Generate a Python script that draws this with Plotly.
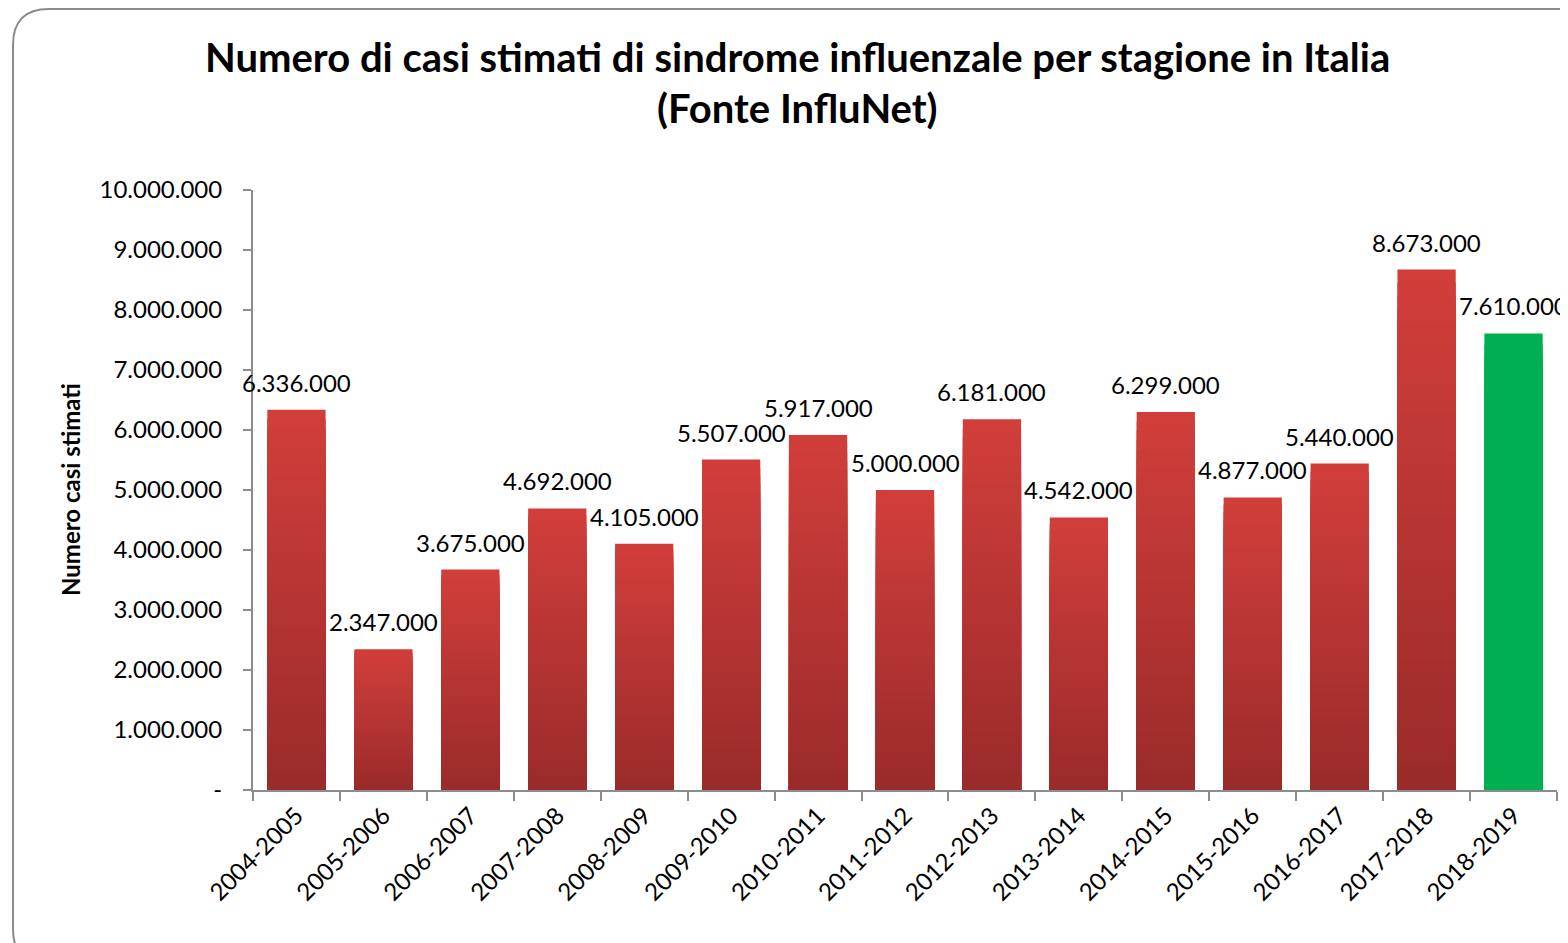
import plotly.graph_objects as go

# dati
stagioni = ["2004-2005", "2005-2006", "2006-2007", "2007-2008", "2008-2009",
            "2009-2010", "2010-2011", "2011-2012", "2012-2013", "2013-2014",
            "2014-2015", "2015-2016", "2016-2017", "2017-2018", "2018-2019"]
casi = [6336000, 2347000, 3675000, 4692000, 4105000,
        5507000, 5917000, 5000000, 6181000, 4542000,
        6299000, 4877000, 5440000, 8673000, 7610000]
y_tickvals = [0, 1000000, 2000000, 3000000, 4000000, 5000000,
              6000000, 7000000, 8000000, 9000000, 10000000]
y_ticktext = ["-", "1.000.000", "2.000.000", "3.000.000", "4.000.000", "5.000.000",
              "6.000.000", "7.000.000", "8.000.000", "9.000.000", "10.000.000"]

FONT = "Lato, Calibri, Arial"
TOP = (209, 62, 58)      # rosso chiaro (alto)
BOTTOM = (154, 43, 43)   # rosso scuro (base)
GREEN = "#00B050"
N_LAYERS = 40

# la pagina ha un margine di 8px: coordinate di riferimento traslate
OFF = 8
W, H = 1568 - OFF, 943 - OFF
ML, MR, MT, MB = 253 - OFF, 1568 - 1557, 190 - OFF, 943 - 790
PW, PH = W - ML - MR, H - MT - MB


def px(x):
    return (x - OFF - ML) / PW


def py(y):
    return (H - MB - (y - OFF)) / PH


def fmt(v):
    return f"{v:,}".replace(",", ".")


fig = go.Figure()

# gradiente verticale simulato con barre sovrapposte
for i in range(N_LAYERS):
    t = i / (N_LAYERS - 1)
    r, g, b = (round(TOP[k] + (BOTTOM[k] - TOP[k]) * t) for k in range(3))
    col = f"rgb({r},{g},{b})"
    frac = 1 - i / N_LAYERS
    colors = [col] * (len(casi) - 1) + [GREEN]
    fig.add_trace(go.Bar(
        x=stagioni,
        y=[v * frac for v in casi],
        marker_color=colors,
        marker_line_width=0,
        hoverinfo="skip" if i else None,
        showlegend=False,
    ))

# etichette dei valori
for s, v in zip(stagioni, casi):
    fig.add_annotation(x=s, y=v, text=fmt(v), showarrow=False,
                       xanchor="center", yanchor="bottom", yshift=11,
                       font={'size': 24, 'color': 'black', 'family': FONT})

# cornice arrotondata
x0, x1, y0, y1, r = 13, 1600, 9, 965, 36
rx, ry = r / PW, r / PH
path = (f"M {px(x0)},{py(y0) - ry} L {px(x0)},{py(y1) + ry} "
        f"Q {px(x0)},{py(y1)} {px(x0) + rx},{py(y1)} "
        f"L {px(x1) - rx},{py(y1)} Q {px(x1)},{py(y1)} {px(x1)},{py(y1) + ry} "
        f"L {px(x1)},{py(y0) - ry} Q {px(x1)},{py(y0)} {px(x1) - rx},{py(y0)} "
        f"L {px(x0) + rx},{py(y0)} Q {px(x0)},{py(y0)} {px(x0)},{py(y0) - ry} Z")
fig.add_shape(type="path", path=path, xref="paper", yref="paper",
              line={'color': '#8C8C8C', 'width': 2}, layer="below")

fig.add_annotation(text="<b>Numero di casi stimati di sindrome influenzale per stagione in Italia</b>",
                   x=px(797), y=py(57), xref="paper", yref="paper", showarrow=False,
                   xanchor="center", yanchor="middle",
                   font={'size': 40, 'color': 'black', 'family': FONT})
fig.add_annotation(text="<b>(Fonte InfluNet)</b>",
                   x=px(797), y=py(108), xref="paper", yref="paper", showarrow=False,
                   xanchor="center", yanchor="middle",
                   font={'size': 40, 'color': 'black', 'family': FONT})
fig.add_annotation(text="<b>Numero casi stimati</b>", textangle=-90,
                   x=px(70), y=py(490), xref="paper", yref="paper", showarrow=False,
                   xanchor="center", yanchor="middle",
                   font={'size': 24, 'color': 'black', 'family': FONT})

fig.update_layout(
    width=W, height=H,
    barmode="overlay",
    bargap=0.33,
    paper_bgcolor="white",
    plot_bgcolor="white",
    margin=dict(l=ML, r=MR, t=MT, b=MB, autoexpand=False),
    font={'family': FONT, 'color': 'black'},
    xaxis=dict(
        range=[-0.5, len(stagioni) - 0.5], autorange=False,
        tickangle=-45, tickfont={'size': 24}, showline=True, linecolor="#8C8C8C", linewidth=2,
        ticks="outside", tickson="boundaries", ticklen=9, tickcolor="#8C8C8C", tickwidth=2,
        showgrid=False,
    ),
    yaxis=dict(
        range=[0, 10000000], tickvals=y_tickvals, ticktext=y_ticktext,
        tickfont={'size': 24}, showline=True, linecolor="#8C8C8C", linewidth=2,
        ticks="outside", ticklen=8, tickcolor="#8C8C8C", tickwidth=2,
        ticklabelstandoff=16, showgrid=False, zeroline=False,
    ),
)

fig.write_html("out.html")
